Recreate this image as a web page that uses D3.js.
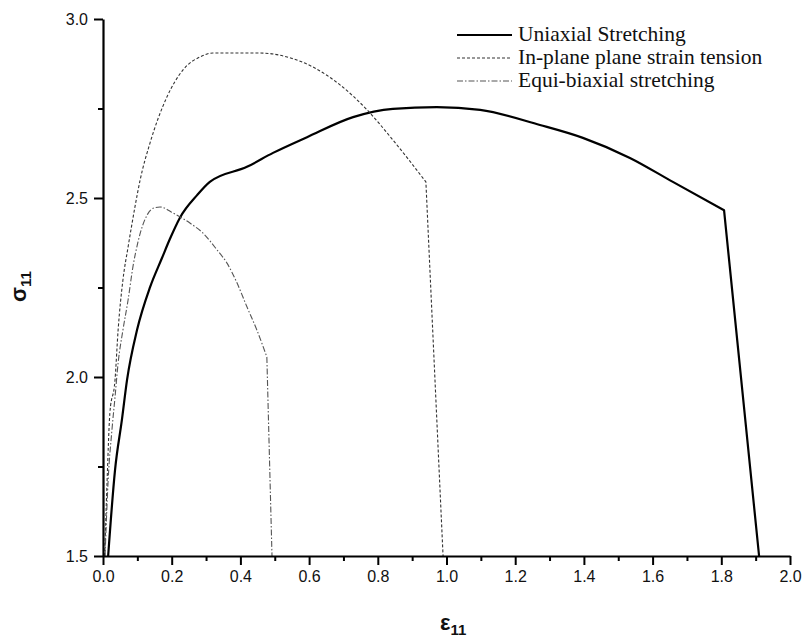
<!DOCTYPE html>
<html>
<head>
<meta charset="utf-8">
<script src="https://cdn.jsdelivr.net/npm/d3@7"></script>
<style>
  html, body { margin: 0; padding: 0; background: #fff; }
  svg { display: block; }
</style>
</head>
<body>
<svg id="chart" width="806" height="641"></svg>
<script>
// Strain (ε11) and stress (σ11) for three loading paths
const uniaxialEps   = [0.015, 0.035, 0.055, 0.070, 0.099, 0.137, 0.172, 0.195, 0.224, 0.274, 0.311, 0.419, 0.495, 0.594, 0.728, 0.844, 0.972, 1.098, 1.272, 1.397, 1.534, 1.659, 1.808, 1.910];
const uniaxialSigma = [1.500, 1.740, 1.880, 1.992, 2.131, 2.251, 2.333, 2.386, 2.445, 2.508, 2.545, 2.587, 2.626, 2.670, 2.726, 2.749, 2.754, 2.746, 2.704, 2.668, 2.612, 2.545, 2.466, 1.500];

const planeStrainEps   = [0.005, 0.012, 0.020, 0.035, 0.044, 0.058, 0.073, 0.093, 0.108, 0.137, 0.186, 0.233, 0.282, 0.320, 0.457, 0.536, 0.611, 0.690, 0.769, 0.844, 0.940, 0.990];
const planeStrainSigma = [1.500, 1.712, 1.899, 1.992, 2.131, 2.271, 2.363, 2.475, 2.550, 2.654, 2.782, 2.858, 2.894, 2.905, 2.905, 2.894, 2.866, 2.816, 2.746, 2.662, 2.545, 1.500];

const equiBiaxialEps   = [0.006, 0.015, 0.026, 0.035, 0.044, 0.058, 0.073, 0.087, 0.102, 0.116, 0.130, 0.148, 0.166, 0.204, 0.253, 0.291, 0.332, 0.361, 0.390, 0.419, 0.448, 0.477, 0.492];
const equiBiaxialSigma = [1.500, 1.712, 1.852, 1.944, 2.039, 2.131, 2.215, 2.307, 2.378, 2.425, 2.455, 2.472, 2.475, 2.458, 2.430, 2.402, 2.355, 2.318, 2.263, 2.196, 2.131, 2.056, 1.500];

const seriesNames = ["Uniaxial Stretching", "In-plane plane strain tension", "Equi-biaxial stretching"];

const xMajorTicks = [0.0, 0.2, 0.4, 0.6, 0.8, 1.0, 1.2, 1.4, 1.6, 1.8, 2.0];
const xMinorTicks = [0.1, 0.3, 0.5, 0.7, 0.9, 1.1, 1.3, 1.5, 1.7, 1.9];
const yMajorTicks = [1.5, 2.0, 2.5, 3.0];
const yMinorTicks = [1.75, 2.25, 2.75];

const svg = d3.select("#chart");

const x = d3.scaleLinear().domain([0, 2]).range([103, 790]);
const y = d3.scaleLinear().domain([1.5, 3.0]).range([556, 19]);

// Styles per series: solid heavy, short dash, dash-dot
const styles = [
  { stroke: "#000", width: 2.2, dash: null },
  { stroke: "#333", width: 1.1, dash: "3,2" },
  { stroke: "#555", width: 1.1, dash: "6,2,1.5,2" }
];

const series = [
  d3.zip(uniaxialEps, uniaxialSigma),
  d3.zip(planeStrainEps, planeStrainSigma),
  d3.zip(equiBiaxialEps, equiBiaxialSigma)
];

// Smooth hardening/softening branch, then a straight fracture drop
const smooth = d3.line().x(d => x(d[0])).y(d => y(d[1])).curve(d3.curveMonotoneX);
function pathFor(pts) {
  const body = pts.slice(0, -1);
  const last = pts[pts.length - 1];
  return smooth(body) + `L${x(last[0])},${y(last[1])}`;
}

const plot = svg.append("g");
series.forEach((pts, i) => {
  plot.append("path")
    .attr("d", pathFor(pts))
    .attr("fill", "none")
    .attr("stroke", styles[i].stroke)
    .attr("stroke-width", styles[i].width)
    .attr("stroke-dasharray", styles[i].dash)
    .attr("stroke-linejoin", "round");
});

// Axes
const tickFont = "Liberation Sans, Arial, sans-serif";

svg.append("g")
  .attr("transform", `translate(0,${y(1.5)})`)
  .call(d3.axisBottom(x).tickValues(xMajorTicks).tickFormat(d3.format(".1f")).tickSize(9).tickSizeOuter(0).tickPadding(6));
svg.append("g")
  .attr("transform", `translate(0,${y(1.5)})`)
  .call(d3.axisBottom(x).tickValues(xMinorTicks).tickFormat("").tickSize(5).tickSizeOuter(0))
  .select(".domain").remove();

svg.append("g")
  .attr("transform", `translate(${x(0)},0)`)
  .call(d3.axisLeft(y).tickValues(yMajorTicks).tickFormat(d3.format(".1f")).tickSize(9).tickSizeOuter(0).tickPadding(6));
svg.append("g")
  .attr("transform", `translate(${x(0)},0)`)
  .call(d3.axisLeft(y).tickValues(yMinorTicks).tickFormat("").tickSize(5).tickSizeOuter(0))
  .select(".domain").remove();

svg.selectAll(".domain").attr("stroke", "#000").attr("stroke-width", 2.2);
svg.selectAll(".tick line").attr("stroke", "#000").attr("stroke-width", 2);
svg.selectAll(".tick text")
  .attr("font-family", tickFont)
  .attr("font-size", 16)
  .attr("fill", "#111");

// Axis titles
const xTitle = svg.append("text")
  .attr("x", 440).attr("y", 630)
  .attr("font-family", tickFont)
  .attr("font-weight", "bold")
  .attr("font-size", 22)
  .attr("fill", "#111");
xTitle.append("tspan").text("ε");
xTitle.append("tspan").attr("font-size", 15).attr("dy", 5).text("11");

const yTitle = svg.append("text")
  .attr("transform", "translate(26,302) rotate(-90)")
  .attr("font-family", tickFont)
  .attr("font-weight", "bold")
  .attr("font-size", 22)
  .attr("fill", "#111");
yTitle.append("tspan").text("σ");
yTitle.append("tspan").attr("font-size", 15).attr("dy", 5).text("11");

// Legend
const legend = svg.append("g");
seriesNames.forEach((name, i) => {
  const cy = 35 + i * 23;
  legend.append("line")
    .attr("x1", 457).attr("x2", 512)
    .attr("y1", cy).attr("y2", cy)
    .attr("stroke", styles[i].stroke)
    .attr("stroke-width", styles[i].width)
    .attr("stroke-dasharray", styles[i].dash);
  legend.append("text")
    .attr("x", 518).attr("y", cy + 6)
    .attr("font-family", "Liberation Serif, Times New Roman, serif")
    .attr("font-size", 21.5)
    .attr("fill", "#111")
    .text(name);
});
</script>
</body>
</html>
